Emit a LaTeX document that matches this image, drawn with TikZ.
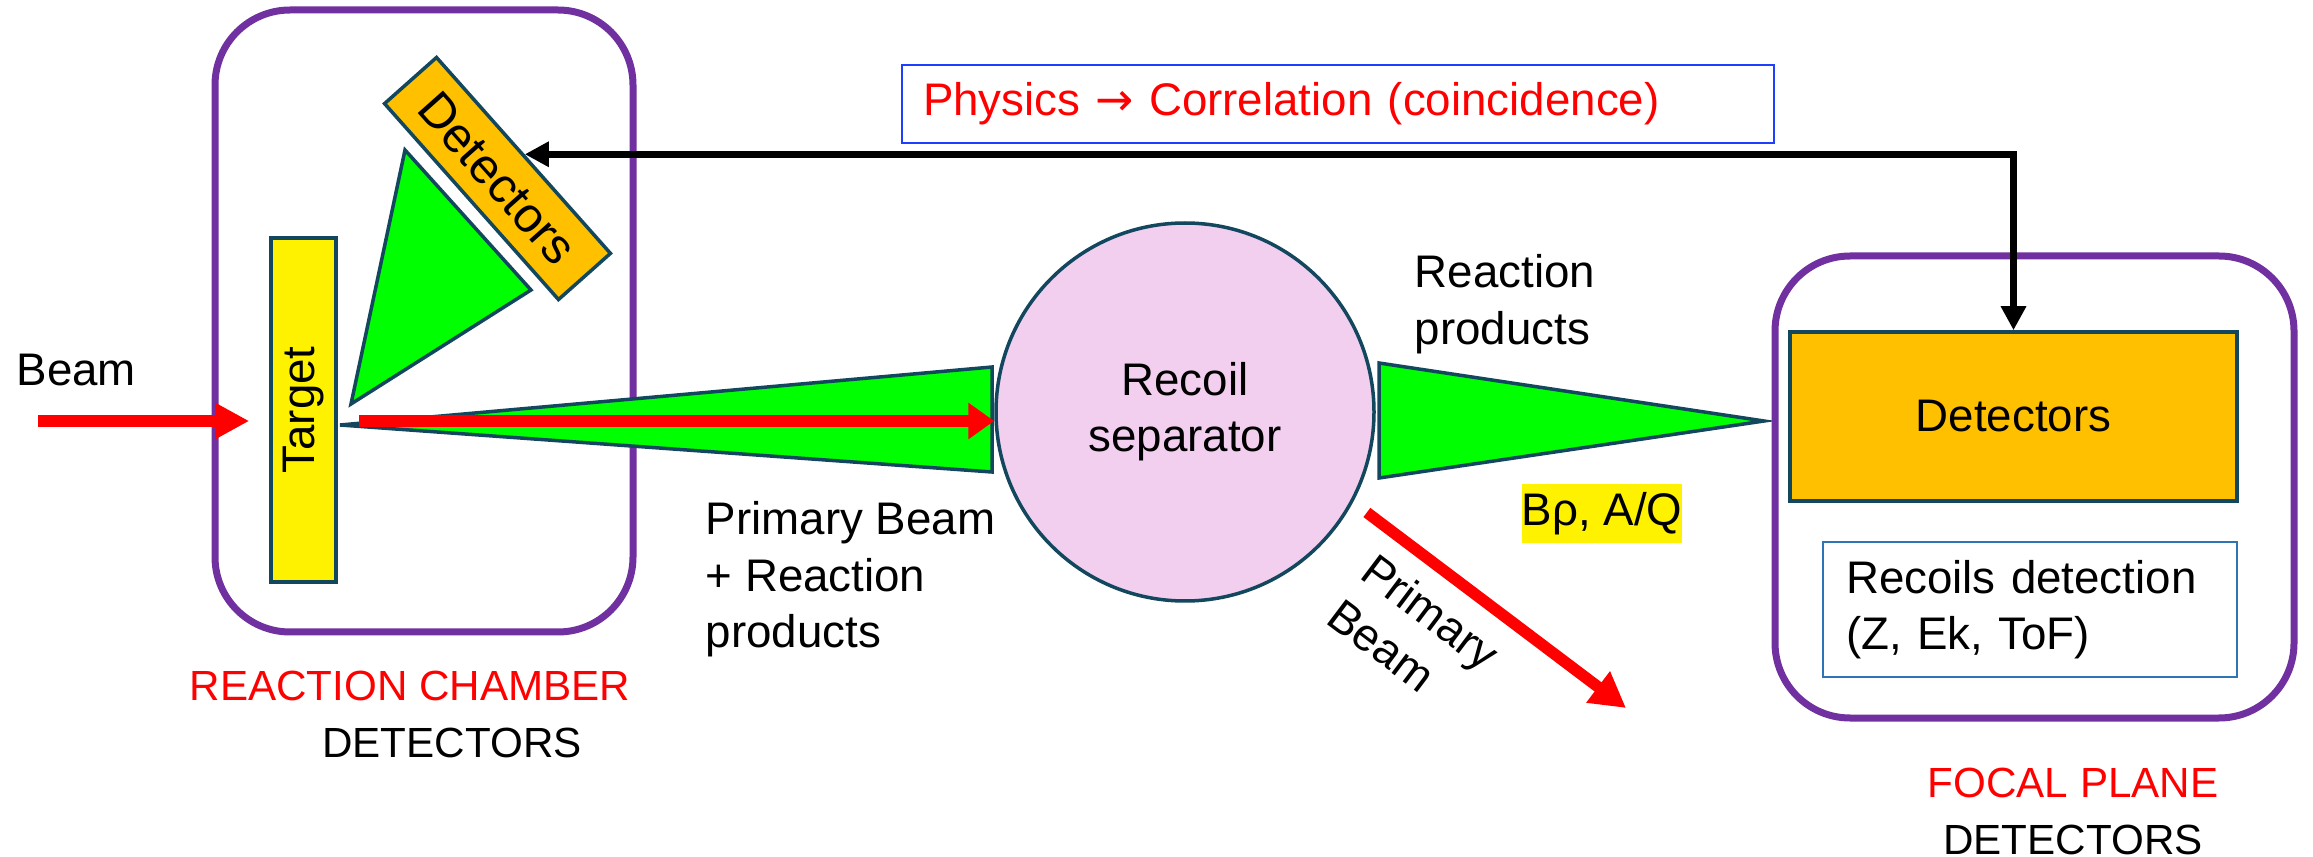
\documentclass[tikz,border=0pt]{standalone}
\usepackage{fontspec}
\setmainfont{Liberation Sans}
\newfontfamily\symfont{DejaVu Sans}
\usepackage{tikz}
\usetikzlibrary{positioning, arrows.meta, calc}
\definecolor{chPurple}{HTML}{7030A0}
\definecolor{coneGreen}{HTML}{00FF00}
\definecolor{detOrange}{HTML}{FFC000}
\definecolor{edgeTeal}{HTML}{12475E}
\definecolor{sepPink}{HTML}{F2CEEF}
\definecolor{recBlue}{HTML}{2E75B6}
\definecolor{physBlue}{HTML}{1F3FFF}

\begin{document}
\begin{tikzpicture}[x=0.1mm, y=-0.1mm,
          every node/.style={font=\fontsize{13}{16}\selectfont},
          frame/.style={draw=chPurple, line width=0.7mm, rounded corners=7.5mm},
          part/.style={draw=edgeTeal, line width=0.35mm},
          cone/.style={part, fill=coneGreen},
          beamline/.style={draw=red, line width=1.15mm, -{Triangle[length=3.4mm, width=3.4mm]}},
          link/.style={line width=0.65mm, {Triangle[length=2.4mm, width=2.4mm]}-{Triangle[length=2.4mm, width=2.4mm]}},
          lbl/.style={inner sep=0pt, align=left},
          caption/.style={inner sep=0pt, font=\fontsize{12}{14}\selectfont},
        ]
        \useasboundingbox (0,0) rectangle (2313,857);

        % reaction chamber
        \node[frame, minimum width=41.8mm, minimum height=62.2mm] (chamber) at (424,321) {};
        \draw[cone] (405,150) -- (531,290) -- (351,404) -- cycle;
        \node[part, fill=detOrange, rotate=-48.4, minimum width=26.2mm, minimum height=6.95mm, inner sep=0pt, font=\fontsize{14}{16}\selectfont] (det1) at (497.5,178.5) {Detectors};
        \node[part, fill=yellow, minimum width=6.5mm, minimum height=34.4mm, inner sep=0pt] (target) at (303.5,410) {};
        \node[rotate=90, inner sep=0pt] (targettxt) at (target) {Target};

        % separator
        \node[part, circle, fill=sepPink, minimum size=37.8mm, align=center] (sep) at (1185,412) {Recoil\\separator};
        \draw[cone] (340,425) -- (992,367) -- (992,472) -- cycle;
        \draw[cone] (1379,363) -- (1764,421) -- (1379,478) -- cycle;

        % beams
        \coordinate (beamstart) at (38,421);
        \draw[beamline] (beamstart) -- ($(target.west |- beamstart)+(-20,0)$);
        \draw[beamline, -{Triangle[length=2.6mm, width=3.5mm]}] ($(target.east |- beamstart)+(21,0)$) -- (sep.west |- beamstart);
        \coordinate (pbtip) at (1626,708);
        \draw[beamline, -{Triangle[length=3.5mm, width=3.7mm]}] ($(sep.-29)+(15,8)$) -- (pbtip);

        % focal plane
        \node[frame, minimum width=51.9mm, minimum height=46.2mm] (focal) at (2034.5,487) {};
        \node[part, fill=detOrange, minimum width=44.7mm, minimum height=16.9mm] (fdet) at (2013.5,416.5) {Detectors};
        \node[draw=recBlue, line width=0.2mm, minimum width=41.4mm, minimum height=13.5mm, text width=36.8mm, inner xsep=2.3mm, align=left] (rec) at (2030,609.5) {Recoils detection\\(Z, Ek, ToF)};

        % correlation
        \node[draw=physBlue, line width=0.2mm, minimum width=87.2mm, minimum height=7.8mm, text width=83mm, inner xsep=2.1mm, align=left, text=red] (phys) at (1338,104) {Physics {\symfont →} Correlation (coincidence)};
        \draw[link] (fdet.north) |- (det1.north);

        % labels
        \node[anchor=base west, inner sep=0pt] (beamlbl) at (16,386) {Beam};
        \node[lbl, anchor=north west] (mixlbl) at (705,501) {Primary Beam\\+ Reaction\\products};
        \node[lbl, anchor=north west] (prodlbl) at (1414,254) {Reaction\\products};
        \node[fill=yellow, inner xsep=0pt, inner ysep=0pt, minimum height=5.9mm] (brho) at (1602,513.5) {Bρ, A/Q};
        \node[lbl, rotate=-37] (pblbl) at (1414,634) {Primary\\Beam};
        \node[caption, text=red] (chlbl) at (410,686) {REACTION CHAMBER};
        \node[caption, below=2.6mm of chlbl, xshift=4.2mm] (chdet) {DETECTORS};
        \node[caption, text=red] (fplbl) at (2073,783) {FOCAL PLANE};
        \node[caption, below=2.6mm of fplbl] (fpdet) {DETECTORS};
      \end{tikzpicture}
\end{document}
